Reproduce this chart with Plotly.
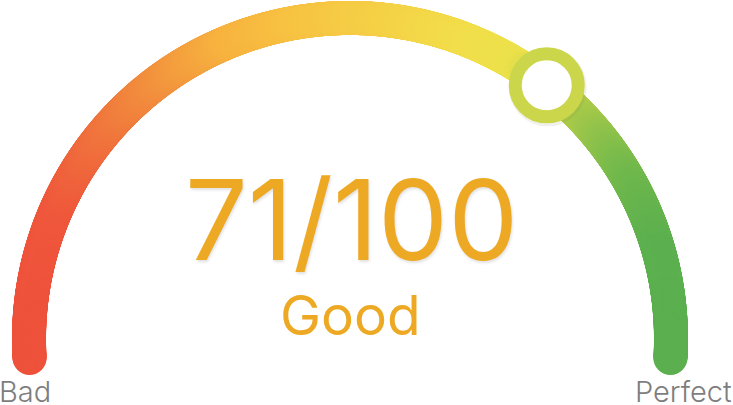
import numpy as np
import plotly.graph_objects as go

# ---- data ----
score_value = 71
score_max = 100
score_label = "Good"
min_label = "Bad"
max_label = "Perfect"

# horizontal gradient of the gauge band: (x-position in px, colour)
grad_x = [12, 60, 120, 180, 230, 300, 380, 470, 520, 550, 590, 630, 660, 690]
grad_colors = ["#EE4E3B", "#EF583C", "#F07A3D", "#F39A3E", "#F7B23F", "#F7C242",
               "#F5CF46", "#F2DE4A", "#ECE14B", "#CCD64B", "#A3C84A", "#72B94C",
               "#5CB04F", "#5AAE50"]

# ---- geometry (pixels) ----
W, H = 733, 405
cx, cy, r = 350.0, 339.0, 321.0
band = 34
overshoot = 3.4  # degrees the band runs past the horizontal

ang = np.radians(np.linspace(180 + overshoot, -overshoot, 1400))
ax_ = cx + r * np.cos(ang)
ay_ = cy - r * np.sin(ang)

x0, x1 = grad_x[0], grad_x[-1]
colorscale = [[(gx - x0) / (x1 - x0), c] for gx, c in zip(grad_x, grad_colors)]

fig = go.Figure()
fig.add_trace(go.Scatter(
    x=ax_, y=ay_, mode="markers", hoverinfo="skip", showlegend=False,
    marker=dict(size=band, color=ax_, colorscale=colorscale, cmin=x0, cmax=x1,
                line=dict(width=0), opacity=1),
))

# value marker
va = np.radians(180 * (1 - score_value / score_max))
mx, my = cx + r * np.cos(va), cy - r * np.sin(va)
fig.add_trace(go.Scatter(
    x=[mx + 1], y=[my + 2], mode="markers", hoverinfo="skip", showlegend=False,
    marker=dict(size=64, color="rgba(0,0,0,0)", line=dict(width=14, color="rgba(120,120,60,0.10)")),
))
fig.add_trace(go.Scatter(
    x=[mx], y=[my], mode="markers", hoverinfo="skip", showlegend=False,
    marker=dict(size=63, color="white", line=dict(width=13, color="#CCD64B")),
))

num_font = "Inter"
fig.add_annotation(x=cx + 1, y=219, xref="x", yref="y", showarrow=False, borderpad=0,
                   text=f"{score_value}/{score_max}", xanchor="center", yanchor="middle",
                   font=dict(family=num_font, size=111, color="#EDA923", weight=400,
                             shadow="1px 2px 3px rgba(0,0,0,0.12)"))
fig.add_annotation(x=cx, y=315, xref="x", yref="y", showarrow=False, borderpad=0,
                   text=score_label, xanchor="center", yanchor="middle",
                   font=dict(family=num_font, size=55, color="#EDA923", weight=400))
fig.add_annotation(x=0, y=0, xref="paper", yref="paper", showarrow=False, borderpad=0,
                   xshift=-2, yshift=-5,
                   text=min_label, xanchor="left", yanchor="bottom",
                   font=dict(family=num_font, size=29, color="#7E7E7E", weight=300))
fig.add_annotation(x=1, y=0, xref="paper", yref="paper", showarrow=False, borderpad=0,
                   yshift=-5,
                   text=max_label, xanchor="right", yanchor="bottom",
                   font=dict(family=num_font, size=29, color="#7E7E7E", weight=300))

fig.update_layout(
    width=W, height=H, margin=dict(l=0, r=0, t=0, b=0),
    paper_bgcolor="white", plot_bgcolor="white",
    xaxis=dict(range=[0, W], visible=False, fixedrange=True),
    yaxis=dict(range=[H, 0], visible=False, fixedrange=True),
)
fig.write_html("out.html", config={"displayModeBar": False})
